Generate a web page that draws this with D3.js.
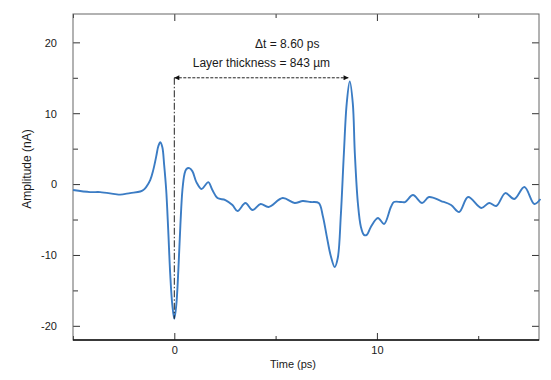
<!DOCTYPE html>
<html>
<head>
<meta charset="utf-8">
<script src="https://cdn.jsdelivr.net/npm/d3@7"></script>
<style>
  body { margin: 0; background: #fff; }
  text { font-family: "Liberation Sans", Arial, sans-serif; fill: #1a1a1a; }
</style>
</head>
<body>
<div id="chart"></div>
<script>
var svgWidth = 551;
var svgHeight = 380;

var margin = { top: 14, right: 12, bottom: 40, left: 73 };
var width = svgWidth - margin.left - margin.right;
var height = svgHeight - margin.top - margin.bottom;

// waveform
var timePs = [-5.0, -4.16, -3.66, -2.92, -2.67, -2.18, -1.68, -1.53, -1.39, -1.19, -1.04, -0.89, -0.79, -0.69, -0.59, -0.50, -0.40, -0.30, -0.20, -0.10, 0,
  0.10, 0.20, 0.30, 0.40, 0.50, 0.59, 0.74, 0.89, 1.09, 1.34, 1.53, 1.68, 1.88, 2.13, 2.52, 2.87, 3.12, 3.51, 3.86, 4.26, 4.65, 5.35, 5.94, 6.34, 6.73,
  7.13, 7.33, 7.52, 7.72, 7.92, 8.07, 8.22, 8.37, 8.51, 8.66, 8.81, 8.91, 9.06, 9.21, 9.36, 9.50, 9.70, 10.05, 10.35, 10.69, 10.84, 11.19, 11.39,
  11.78, 12.23, 12.57, 13.17, 13.66, 14.06, 14.50, 15.15, 15.54, 15.89, 16.34, 16.78, 17.28, 17.77, 18.07];
var amplitudeNa = [-0.84, -1.13, -1.13, -1.41, -1.48, -1.27, -1.05, -0.84, -0.42, 0.56, 1.97, 3.94, 5.34, 5.9, 5.2, 2.67, -0.84, -6.5, -12.8, -17.0, -19.0,
  -17.0, -12.1, -5.8, -0.84, 1.4, 2.1, 2.25, 1.83, 0.28, -0.7, -0.14, 0.28, -0.84, -1.97, -2.25, -2.95, -3.8, -2.67, -3.66, -2.81, -3.23, -1.97, -2.67, -2.39, -2.53,
  -2.67, -4.5, -7.3, -10.1, -11.7, -10.4, -4.36, 4.36, 11.4, 14.5, 11.4, 4.36, -2.67, -6.05, -7.17, -7.17, -6.05, -4.78, -5.63, -3.23, -2.53, -2.53, -2.53,
  -1.55, -2.67, -1.83, -2.39, -2.95, -3.94, -1.83, -3.38, -2.67, -3.09, -1.27, -2.11, -0.42, -2.81, -2.11];

var xTicks = [0, 10];
var xMinorTicks = [-5, 5, 15];
var yTicks = [-20, -10, 0, 10, 20];
var yMinorTicks = [-15, -5, 5, 15];

var deltaT = 8.60;
var arrowLevel = 15;
var troughLevel = -19;
var annotations = ["\u0394t = 8.60 ps", "Layer thickness = 843 \u00b5m"];

var data = timePs.map(function(t, i) { return { t: t, a: amplitudeNa[i] }; });

var svg = d3.select("#chart")
  .append("svg")
  .attr("width", svgWidth)
  .attr("height", svgHeight);

var defs = svg.append("defs");
defs.append("marker")
  .attr("id", "head")
  .attr("viewBox", "0 0 10 10")
  .attr("refX", 10).attr("refY", 5)
  .attr("markerWidth", 9).attr("markerHeight", 5)
  .attr("markerUnits", "userSpaceOnUse")
  .attr("orient", "auto-start-reverse")
  .append("path")
  .attr("d", "M0,0 L10,5 L0,10 z")
  .attr("fill", "#111");

var chartGroup = svg.append("g")
  .attr("transform", `translate(${margin.left}, ${margin.top})`);

var x = d3.scaleLinear().domain([-5, 18]).range([0, width]);
var y = d3.scaleLinear().domain([-22, 24]).range([height, 0]);

// plain hyphen minus like the original
var plain = d => String(d);

// inward ticks on all four sides
function tickAxis(axisFn, scale, vals, size, fmt) {
  return axisFn(scale).tickValues(vals).tickSize(size).tickFormat(fmt);
}

var bottomAxis = chartGroup.append("g").attr("transform", `translate(0, ${height})`)
  .call(tickAxis(d3.axisBottom, x, xTicks, -7, plain));
bottomAxis.append("g").call(tickAxis(d3.axisBottom, x, xMinorTicks, -4, ""));
bottomAxis.selectAll("text").attr("y", 14).attr("dy", 0).style("font-size", "11px");

var topAxis = chartGroup.append("g")
  .call(tickAxis(d3.axisTop, x, xTicks, -7, ""));
topAxis.append("g").call(tickAxis(d3.axisTop, x, xMinorTicks, -4, ""));

var leftAxis = chartGroup.append("g")
  .call(tickAxis(d3.axisLeft, y, yTicks, -7, plain));
leftAxis.append("g").call(tickAxis(d3.axisLeft, y, yMinorTicks, -5, ""));
leftAxis.selectAll("text").attr("x", -16).attr("dy", "0.35em").style("font-size", "11px");

var rightAxis = chartGroup.append("g").attr("transform", `translate(${width}, 0)`)
  .call(tickAxis(d3.axisRight, y, yTicks, -7, ""));
rightAxis.append("g").call(tickAxis(d3.axisRight, y, yMinorTicks, -5, ""));

chartGroup.selectAll(".domain").remove();
chartGroup.selectAll(".tick line").attr("stroke", "#333");

chartGroup.append("rect")
  .attr("width", width).attr("height", height)
  .attr("fill", "none").attr("stroke", "#666").attr("stroke-width", 1);
chartGroup.append("line")
  .attr("x1", 0).attr("x2", width).attr("y1", height).attr("y2", height)
  .attr("stroke", "#111").attr("stroke-width", 1.5);

// signal
chartGroup.append("path")
  .datum(data)
  .attr("fill", "none")
  .attr("stroke", "#3b7cc4")
  .attr("stroke-width", 1.9)
  .attr("d", d3.line().x(d => x(d.t)).y(d => y(d.a)).curve(d3.curveCatmullRom));

// dash-dot marker at t = 0
chartGroup.append("line")
  .attr("x1", x(0)).attr("x2", x(0))
  .attr("y1", y(arrowLevel)).attr("y2", y(troughLevel))
  .attr("stroke", "#222").attr("stroke-width", 1)
  .attr("stroke-dasharray", "7,2,1.5,2");

// double arrow between echoes
chartGroup.append("line")
  .attr("x1", x(0)).attr("x2", x(deltaT))
  .attr("y1", y(arrowLevel)).attr("y2", y(arrowLevel))
  .attr("stroke", "#222").attr("stroke-width", 1)
  .attr("stroke-dasharray", "3,1.5")
  .attr("marker-start", "url(#head)")
  .attr("marker-end", "url(#head)");

chartGroup.append("text")
  .attr("x", x(0) + 113).attr("y", 34)
  .attr("text-anchor", "middle").style("font-size", "12px")
  .text(annotations[0]);
chartGroup.append("text")
  .attr("x", (x(0) + x(deltaT)) / 2).attr("y", 53)
  .attr("text-anchor", "middle").style("font-size", "12px")
  .text(annotations[1]);

// axis titles
chartGroup.append("text")
  .attr("x", width / 2 - 13).attr("y", height + 28)
  .attr("text-anchor", "middle").style("font-size", "11px")
  .text("Time (ps)");

svg.append("text")
  .attr("transform", "translate(31, 169) rotate(-90)")
  .attr("text-anchor", "middle").style("font-size", "12px")
  .text("Amplitude (nA)");
</script>
</body>
</html>
